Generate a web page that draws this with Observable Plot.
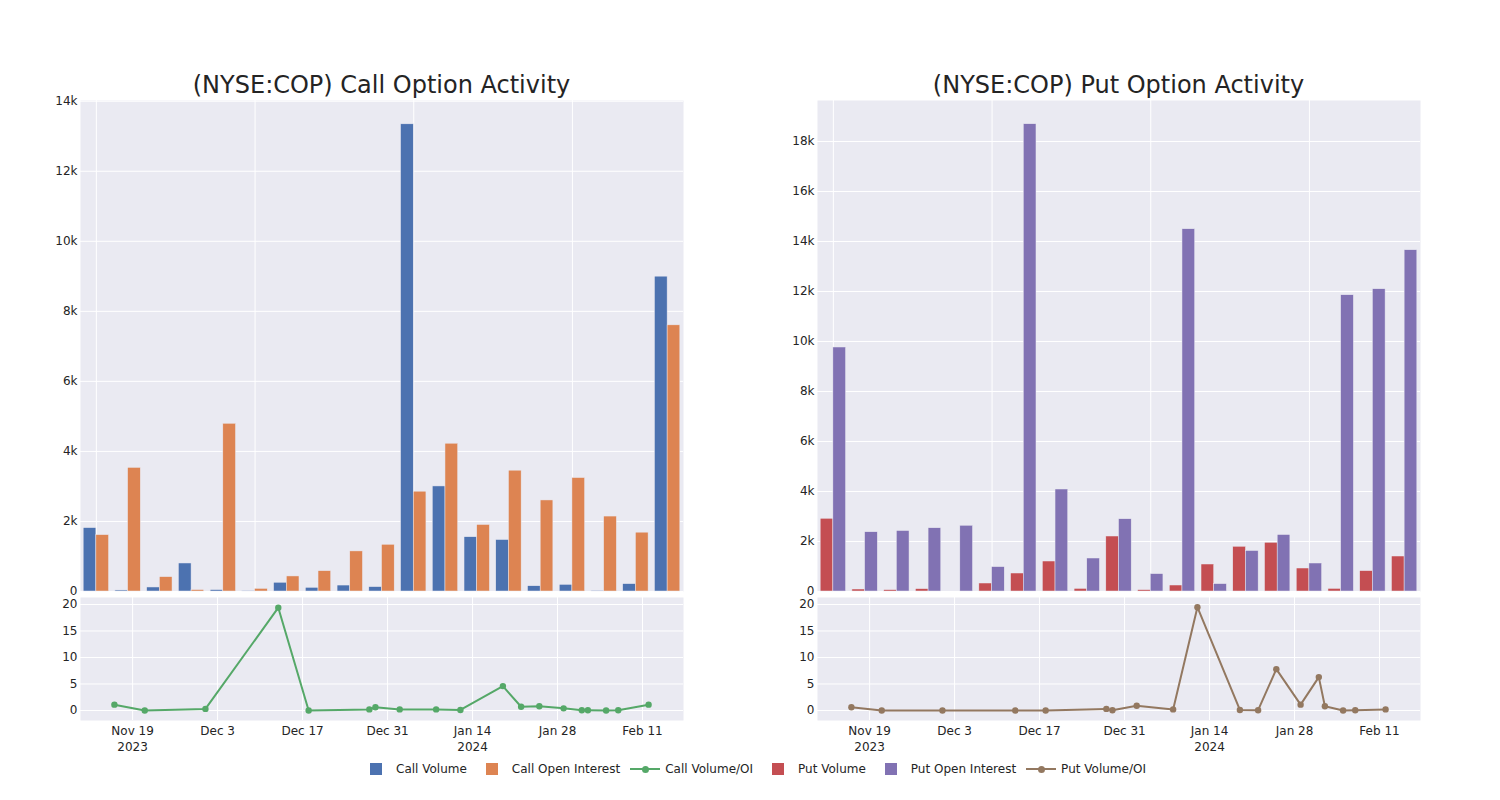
<!DOCTYPE html>
<html><head><meta charset="utf-8">
<script src="https://cdn.jsdelivr.net/npm/d3@7"></script>
<script src="https://cdn.jsdelivr.net/npm/@observablehq/plot@0.6"></script>
<style>
body{margin:0;background:#fff;font-family:"DejaVu Sans",sans-serif;}
#root{position:relative;width:1500px;height:800px;overflow:hidden;background:#fff;}
.title{position:absolute;font-size:24px;line-height:28px;color:rgb(36,36,36);transform:translate(-50%,-50%);white-space:nowrap;}
.panel{position:absolute;}
#legend{position:absolute;left:356px;top:760px;display:flex;font-size:12px;color:rgb(36,36,36);height:18px;align-items:center;}
.item{display:flex;align-items:center;padding-right:5px;}
.sym{width:40px;height:18px;position:relative;}
.sq{position:absolute;left:14px;top:3px;width:12px;height:12px;}
.ln{position:absolute;left:5px;top:8px;width:30px;height:2px;}
.dt{position:absolute;left:16.5px;top:5.5px;width:7px;height:7px;border-radius:50%;}
</style>
</head><body>
<div id="root"></div>
<script>
// ---- data ----
const dates = ["2023-11-16","2023-11-21","2023-12-01","2023-12-13","2023-12-18","2023-12-28","2023-12-29","2024-01-02","2024-01-08","2024-01-12","2024-01-19","2024-01-22","2024-01-25","2024-01-29","2024-02-01","2024-02-02","2024-02-05","2024-02-07","2024-02-12"];
const callVolume = [1810, 30, 115, 800, 40, 15, 250, 105, 170, 125, 13340, 3000, 1550, 1470, 150, 190, 20, 210, 8990];
const callOI     = [1610, 3530, 410, 41, 4790, 75, 430, 580, 1145, 1335, 2850, 4220, 1900, 3450, 2600, 3240, 2140, 1680, 7600];
const callRatio  = [1.1, 0, 0.3, 19.4, 0, 0.2, 0.6, 0.2, 0.2, 0.1, 4.6, 0.7, 0.8, 0.4, 0.05, 0.05, 0, 0.05, 1.1];
const putVolume  = [2910, 80, 55, 95, 0, 320, 720, 1200, 105, 2200, 55, 240, 1080, 1790, 1950, 920, 105, 815, 1400];
const putOI      = [9760, 2370, 2420, 2530, 2630, 975, 18690, 4080, 1320, 2890, 695, 14490, 295, 1620, 2260, 1120, 11850, 12090, 13650];
const putRatio   = [0.6, 0, 0, 0, 0, 0.3, 0.05, 0.9, 0.2, 19.5, 0.1, 0.05, 7.8, 1.1, 6.3, 0.8, 0, 0.05, 0.2];
const callBarTicks = [0, 2000, 4000, 6000, 8000, 10000, 12000, 14000];
const putBarTicks  = [0, 2000, 4000, 6000, 8000, 10000, 12000, 14000, 16000, 18000];
const barGridIdx   = [0, 5, 10, 15];
const lineYTicks   = [0, 5, 10, 15, 20];
const dateTicks    = ["2023-11-19","2023-12-03","2023-12-17","2023-12-31","2024-01-14","2024-01-28","2024-02-11"];
const dateTickLabels = ["Nov 19\n2023","Dec 3","Dec 17","Dec 31","Jan 14\n2024","Jan 28","Feb 11"];
const titles = ["(NYSE:COP) Call Option Activity", "(NYSE:COP) Put Option Activity"];
const seriesNames = ["Call Volume","Call Open Interest","Call Volume/OI","Put Volume","Put Open Interest","Put Volume/OI"];
const colors = ["#4C72B0","#DD8452","#55A868","#C44E52","#8172B3","#937860"];

// ---- drawing ----
const BG = "#EAEAF2", TXT = "rgb(36,36,36)";
const kfmt = d => d === 0 ? "0" : (d / 1000) + "k";
const style = {fontFamily: "'DejaVu Sans', sans-serif", fontSize: "12px", color: TXT, background: "transparent", overflow: "visible"};
const root = document.getElementById("root");

function place(el, left, top) {
  const w = document.createElement("div");
  w.className = "panel"; w.style.left = left + "px"; w.style.top = top + "px";
  w.appendChild(el); root.appendChild(w);
}

function barPlot(vol, oi, c1, c2, ymax, yticks) {
  const rows = dates.map((d, i) => ({i, vol: vol[i], oi: oi[i]}));
  return Plot.plot({
    width: 700, height: 510, marginLeft: 80, marginRight: 17, marginTop: 10, marginBottom: 9,
    style,
    x: {type: "linear", domain: [-0.5, dates.length - 0.5], axis: null},
    y: {domain: [0, ymax], axis: null},
    marks: [
      Plot.frame({fill: BG, stroke: "none"}),
      Plot.ruleX(barGridIdx, {stroke: "white", strokeWidth: 1}),
      Plot.ruleY(yticks, {stroke: "white", strokeWidth: 1}),
      Plot.axisY({ticks: yticks, tickSize: 0, tickPadding: 3, tickFormat: kfmt, label: null, fill: TXT}),
      Plot.rect(rows, {x1: d => d.i - 0.4, x2: d => d.i, y1: 0, y2: "vol", fill: c1, stroke: BG, strokeWidth: 0.5}),
      Plot.rect(rows, {x1: d => d.i, x2: d => d.i + 0.4, y1: 0, y2: "oi", fill: c2, stroke: BG, strokeWidth: 0.5})
    ]
  });
}

const tickMap = new Map(dateTicks.map((d, i) => [+new Date(d), dateTickLabels[i]]));
function linePlot(ratio, color) {
  const rows = dates.map((d, i) => ({date: new Date(d), r: ratio[i]}));
  const tdates = dateTicks.map(d => new Date(d));
  return Plot.plot({
    width: 700, height: 170, marginLeft: 80, marginRight: 17, marginTop: 5, marginBottom: 42,
    style,
    x: {type: "utc", domain: [new Date(Date.UTC(2023, 10, 10, 10)), new Date(Date.UTC(2024, 1, 17, 18))], axis: null},
    y: {domain: [-1.89, 21.32], axis: null},
    marks: [
      Plot.frame({fill: BG, stroke: "none"}),
      Plot.ruleX(tdates, {stroke: "white", strokeWidth: 1}),
      Plot.ruleY(lineYTicks, {stroke: "white", strokeWidth: 1}),
      Plot.axisY({ticks: lineYTicks, tickSize: 0, tickPadding: 3, label: null, fill: TXT}),
      Plot.axisX({ticks: tdates, tickSize: 0, tickPadding: 3, label: null, fill: TXT, lineHeight: 1.33, tickFormat: d => tickMap.get(+d)}),
      Plot.line(rows, {x: "date", y: "r", stroke: color, strokeWidth: 2}),
      Plot.dot(rows, {x: "date", y: "r", fill: color, r: 3.2, stroke: "none"})
    ]
  });
}

place(barPlot(callVolume, callOI, colors[0], colors[1], 14020, callBarTicks), 0, 90);
place(linePlot(callRatio, colors[2]), 0, 592);
place(barPlot(putVolume, putOI, colors[3], colors[4], 19640, putBarTicks), 737, 90);
place(linePlot(putRatio, colors[5]), 737, 592);

[[titles[0], 381.5], [titles[1], 1118.5]].forEach(([t, x]) => {
  const d = document.createElement("div");
  d.className = "title"; d.textContent = t; d.style.left = x + "px"; d.style.top = "85px";
  root.appendChild(d);
});

const legend = document.createElement("div");
legend.id = "legend";
seriesNames.forEach((name, i) => {
  const item = document.createElement("div"); item.className = "item";
  const sym = document.createElement("div"); sym.className = "sym";
  if (i === 2 || i === 5) {
    const ln = document.createElement("div"); ln.className = "ln"; ln.style.background = colors[i];
    const dt = document.createElement("div"); dt.className = "dt"; dt.style.background = colors[i];
    sym.appendChild(ln); sym.appendChild(dt);
  } else {
    const sq = document.createElement("div"); sq.className = "sq"; sq.style.background = colors[i];
    sym.appendChild(sq);
  }
  const tx = document.createElement("span"); tx.textContent = name;
  item.appendChild(sym); item.appendChild(tx);
  legend.appendChild(item);
});
root.appendChild(legend);
</script>
</body></html>
